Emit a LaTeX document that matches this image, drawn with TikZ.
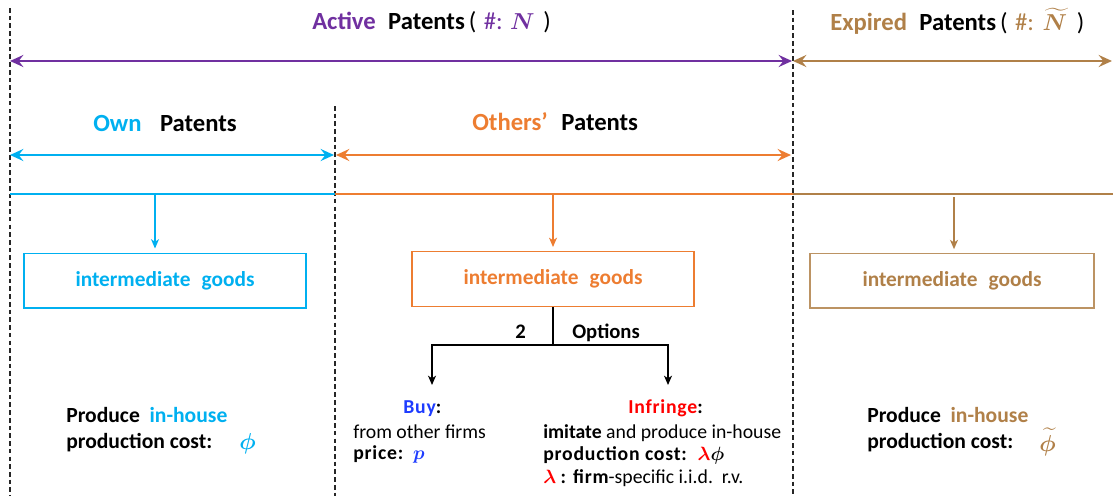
\documentclass[tikz,border=0pt]{standalone}
\usepackage{fontspec}
\setmainfont{Carlito}
\usepackage{amsmath}
\usepackage{bm}
\usetikzlibrary{arrows.meta}
\definecolor{cpurple}{RGB}{112,48,160}
\definecolor{cblue}{RGB}{0,176,240}
\definecolor{corange}{RGB}{237,125,49}
\definecolor{cbrown}{RGB}{176,128,72}
\definecolor{cbuy}{RGB}{30,60,255}
\definecolor{cred}{RGB}{255,0,0}
\newcommand{\bphi}{{\boldmath$\phi$}}
\newcommand{\blam}{{\boldmath$\lambda$}}
\newcommand{\spbf}[1]{{\bfseries\addfontfeatures{LetterSpace=4}#1}}
\begin{document}
\begin{tikzpicture}[x=0.75pt,y=-0.75pt,
  dashline/.style={black!85, line width=0.8pt, dash pattern=on 3.5pt off 2.3pt},
  bigarrow/.style={line width=2pt, {Stealth[length=10pt,width=9pt,inset=3.5pt]}-{Stealth[length=10pt,width=9pt,inset=3.5pt]}},
  baseline/.style={line width=2.2pt},
  smallarrow/.style={line width=1pt, -{Stealth[length=7pt,width=6pt,inset=2pt]}},
  goodsbox/.style={draw, line width=1pt, minimum width=211.5pt, minimum height=41pt, inner sep=0pt,
    font=\fontsize{16}{19}\selectfont\bfseries},
  titletext/.style={anchor=base west, inner sep=0pt, font=\fontsize{18.5}{22}\selectfont},
  bodytext/.style={anchor=base west, inner sep=0pt, font=\fontsize{14.8}{17}\selectfont},
  sidetext/.style={anchor=base west, inner sep=0pt, font=\fontsize{16.2}{19}\selectfont\bfseries},
  phitext/.style={anchor=base west, inner sep=0pt, font=\fontsize{19}{22}\selectfont},
]
\useasboundingbox (0,0) rectangle (1113,496);

% dashed separators
\coordinate (dL1) at (10,8);   \coordinate (dL2) at (10,496);
\coordinate (dM1) at (335,106); \coordinate (dM2) at (335,496);
\coordinate (dR1) at (793,10);  \coordinate (dR2) at (793,496);
\draw[dashline] (dL1) -- (dL2);
\draw[dashline] (dM1) -- (dM2);
\draw[dashline] (dR1) -- (dR2);

% titles
\node[titletext] (activeT) at (312,29) {\textcolor{cpurple}{\textbf{Active}}\hspace{0.5em}\textbf{Patents}\,(\hspace{0.3em}\textcolor{cpurple}{\#:}\hspace{0.3em}\textcolor{cpurple}{$\bm{N}$}\hspace{0.35em})};
\node[titletext] (expiredT) at (830,31) {\textcolor{cbrown}{\textbf{Expired}}\hspace{0.5em}\textbf{Patents}\,(\hspace{0.3em}\textcolor{cbrown}{\#:}\hspace{0.35em}\textcolor{cbrown}{$\bm{\widetilde{N}}$}\hspace{0.4em})};
\node[titletext] (ownT) at (93,131) {\textcolor{cblue}{\textbf{Own}}\hspace{0.75em}\textbf{Patents}};
\node[titletext] (othersT) at (472,130) {\textcolor{corange}{\textbf{Others'}}\hspace{0.55em}\textbf{Patents}};

% big span arrows
\coordinate (pa1) at (10,61); \coordinate (pa2) at (792,61);
\coordinate (ba1) at (793,61); \coordinate (ba2) at (1112,61);
\draw[bigarrow, cpurple] (pa1) -- (pa2);
\draw[bigarrow, cbrown] (ba1) -- (ba2);
\coordinate (oa1) at (10,155); \coordinate (oa2) at (334,155);
\coordinate (ra1) at (336,155); \coordinate (ra2) at (791,155);
\draw[bigarrow, cblue] (oa1) -- (oa2);
\draw[bigarrow, corange] (ra1) -- (ra2);

% base lines
\coordinate (l1) at (10,194); \coordinate (l2) at (335,194);
\coordinate (l3) at (793,194); \coordinate (l4) at (1113,194);
\draw[baseline, cblue] (l1) -- (l2);
\draw[baseline, corange] (l2) -- (l3);
\draw[baseline, cbrown, line width=2pt] (l3) -- (l4);

% boxes
\node[goodsbox, draw=cblue, text=cblue] (ownbox) at (165,280.5) {intermediate\hspace{0.3em} goods};
\node[goodsbox, draw=corange, text=corange] (othbox) at (553,279) {intermediate\hspace{0.3em} goods};
\node[goodsbox, draw=cbrown!85, text=cbrown, minimum width=213pt] (expbox) at (952,280.5) {intermediate\hspace{0.3em} goods};

% down arrows
\coordinate (ownS) at (155,195);
\coordinate (othS) at (553,195);
\coordinate (expS) at (954,197);
\draw[smallarrow, cblue] (ownS) -- ([yshift=3pt]ownS |- ownbox.north);
\draw[smallarrow, corange] (othS) -- ([yshift=3pt]othS |- othbox.north);
\draw[smallarrow, cbrown] (expS) -- ([yshift=2.5pt]expS |- expbox.north);

% options split
\coordinate (split) at (553,345);
\coordinate (buyT) at (432,345);
\coordinate (infT) at (668,345);
\coordinate (buyE) at (432,385);
\coordinate (infE) at (668,385);
\draw[line width=1pt] (othbox.south) -- (split);
\draw[smallarrow] (split) -- (buyT) -- (buyE);
\draw[smallarrow] (split) -- (infT) -- (infE);
\node[bodytext, font=\fontsize{15.5}{18}\selectfont\bfseries] (two) at (515,338) {2};
\node[bodytext, font=\fontsize{15.5}{18}\selectfont\bfseries] (opts) at (572,338) {Options};

% own text
\node[sidetext] (ownL1) at (66,422) {Produce\hspace{0.45em}\textcolor{cblue}{in-house}};
\node[sidetext] (ownL2) at (66,448) {production cost:};
\node[phitext] (ownPhi) at (239,449) {\textcolor{cblue}{\bphi}};

% buy text
\node[bodytext] (buyL1) at (403,413) {\spbf{\textcolor{cbuy}{Buy}:}};
\node[bodytext] (buyL2) at (353,438) {from other firms};
\node[bodytext] (buyL3) at (353,459) {\spbf{price:}\hspace{0.5em}\textcolor{cbuy}{\fontsize{15.5}{17}\selectfont$\bm{p}$}};

% infringe text
\node[bodytext] (infL1) at (628,413) {\spbf{\textcolor{cred}{Infringe}:}};
\node[bodytext] (infL2) at (543,438) {\textbf{imitate} and produce in-house};
\node[bodytext] (infL3) at (543,460) {\spbf{production cost:}\hspace{0.55em}{\fontsize{15.5}{17}\selectfont\textcolor{cred}{\blam}\bphi}};
\node[bodytext] (infL4) at (543,483) {{\fontsize{15.5}{17}\selectfont\textcolor{cred}{\blam}} \spbf{: firm}-specific i.i.d.\ \ r.v.};

% expired text
\node[sidetext] (expL1) at (867,422) {Produce\hspace{0.45em}\textcolor{cbrown}{in-house}};
\node[sidetext] (expL2) at (867,448) {production cost:};
\node[phitext] (expPhi) at (1039,451) {\textcolor{cbrown}{\boldmath$\widetilde{\phi}$}};
\end{tikzpicture}
\end{document}
